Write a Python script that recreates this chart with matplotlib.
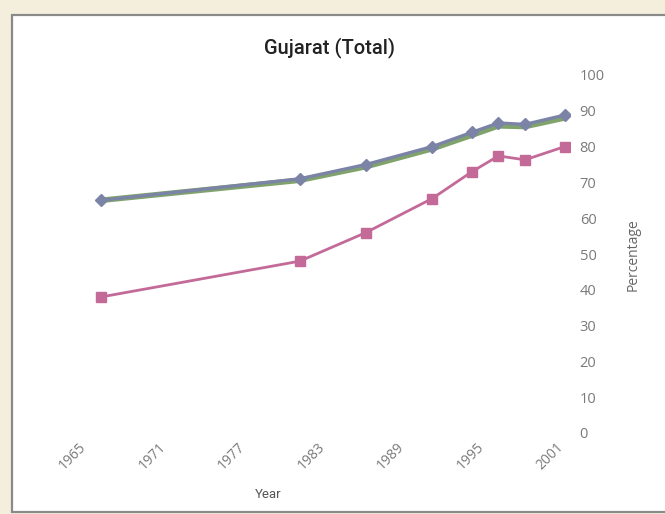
import matplotlib.pyplot as plt
import matplotlib.transforms as mtransforms
from matplotlib.patches import Rectangle

# Survey years and percentages
years = [1966, 1981, 1986, 1991, 1994, 1996, 1998, 2001]
blue_vals = [65, 71, 75, 80, 84, 86.6, 86.2, 88.8]
green_vals = [65, 70.6, 74.4, 79.4, 83.2, 85.8, 85.6, 88.0]
pink_vals = [38, 48, 56, 65.5, 73, 77.4, 76.3, 80]

x_ticks = [1965, 1971, 1977, 1983, 1989, 1995, 2001]
y_ticks = list(range(0, 101, 10))

fig = plt.figure(figsize=(6.65, 5.14), dpi=100, facecolor='#f4eedc')

# white panel with a grey frame (scanned look)
W, H = 665, 514
panel = Rectangle((12 / W, 0.004), 1.0, 1 - 15 / H - 0.004, transform=fig.transFigure,
                  facecolor='white', edgecolor='#8a8a8a', linewidth=1.6, zorder=-1)
fig.patches.append(panel)

ax = fig.add_axes([60 / W, 1 - 433 / H, (570 - 60) / W, (433 - 75) / H])
ax.set_facecolor('none')

ax.plot(years, green_vals, color='#7fa36a', linewidth=4, zorder=2)
ax.plot(years, blue_vals, color='#7b84a6', linewidth=2.4, marker='D',
        markersize=6.5, markeredgecolor='#7b84a6', zorder=3)
ax.plot(years, pink_vals, color='#c36a98', linewidth=2.0, marker='s',
        markersize=7.5, markeredgecolor='#c36a98', zorder=3)

ax.set_xlim(1962.9, 2001.4)
ax.set_ylim(0, 100)
ax.set_xticks(x_ticks)
ax.set_xticklabels([])
# rotated year labels placed by hand so they sit close to the baseline
offset = mtransforms.ScaledTranslation(-9 / 100, -7 / 100, fig.dpi_scale_trans)
for yr in x_ticks:
    ax.text(yr, 0, str(yr), transform=ax.get_xaxis_transform() + offset,
            rotation=45, rotation_mode='anchor', ha='right', va='top',
            fontsize=10, color='#7a7a7a', family='Open Sans')
ax.set_yticks(y_ticks)
ax.set_yticklabels([str(v) for v in y_ticks], fontsize=10.5, color='#7a7a7a',
                   family='Open Sans')
ax.yaxis.tick_right()
ax.tick_params(axis='both', length=0)
ax.tick_params(axis='y', pad=7)
for s in ax.spines.values():
    s.set_visible(False)

fig.text(330 / W, 1 - 48 / H, 'Gujarat (Total)', ha='center', va='center',
         fontsize=14.5, color='#222222', family='Roboto', weight='medium')
fig.text(268 / W, 1 - 494 / H, 'Year', ha='center', va='center', fontsize=9.5,
         color='#555555', family='Roboto')
fig.text(633 / W, 1 - 255 / H, 'Percentage', ha='center', va='center',
         rotation=90, fontsize=10, color='#666666', family='Open Sans')

fig.savefig('out.png', dpi=100, facecolor=fig.get_facecolor())
